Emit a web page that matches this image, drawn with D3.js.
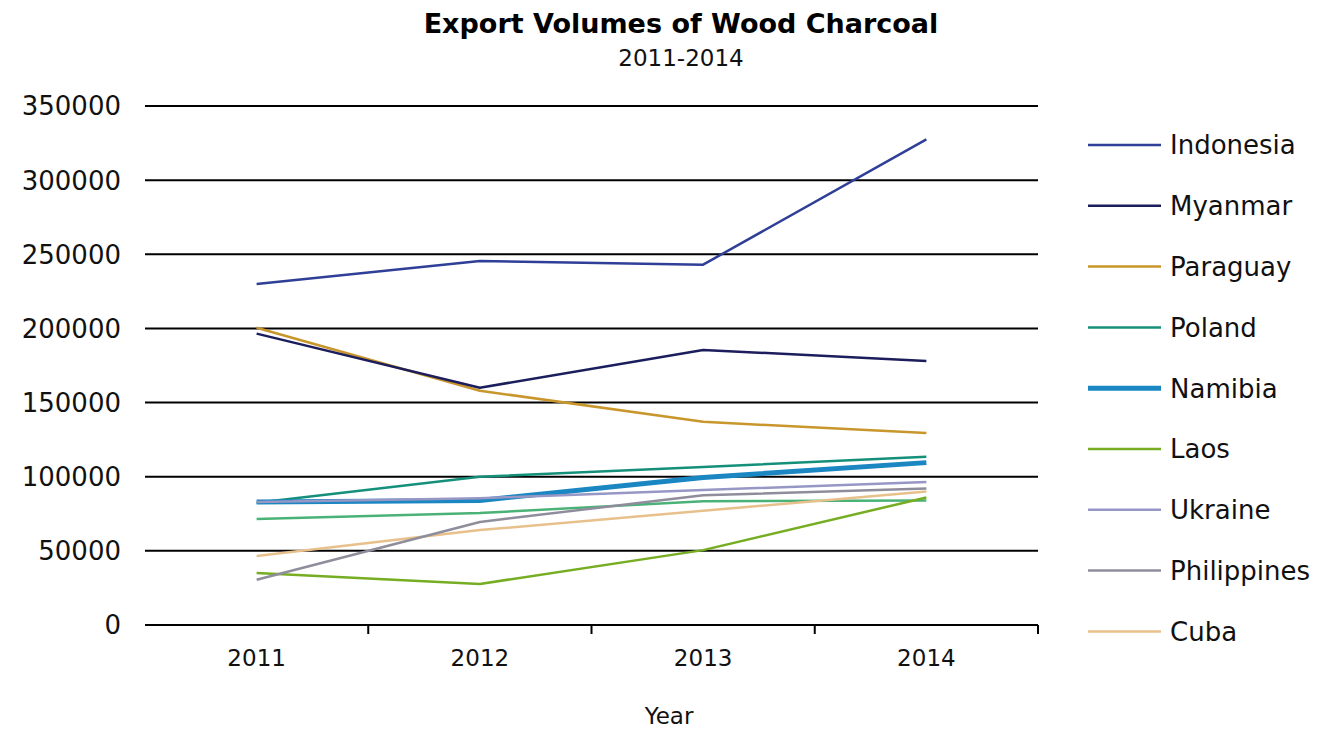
<!DOCTYPE html>
<html>
<head>
<meta charset="utf-8">
<script src="https://cdn.jsdelivr.net/npm/d3@7"></script>
<style>
  html, body { margin: 0; padding: 0; background: #fff; }
  svg { display: block; font-family: "DejaVu Sans", "Noto Sans", sans-serif; }
</style>
</head>
<body>
<svg id="chart" width="1317" height="729"></svg>
<script>
const years = ["2011", "2012", "2013", "2014"];
const yTicks = [0, 50000, 100000, 150000, 200000, 250000, 300000, 350000];

const indonesia   = [230000, 245500, 243000, 327500];
const myanmar     = [196500, 160000, 185500, 178000];
const paraguay    = [200500, 158000, 137000, 129500];
const poland      = [82500, 100000, 106500, 113500];
const namibia     = [83000, 84000, 99500, 109500];
const laos        = [35000, 27700, 50500, 86000];
const ukraine     = [83000, 85500, 91000, 96500];
const philippines = [30500, 69500, 87500, 92000];
const cuba        = [46500, 64000, 77000, 90000];
const unlabeled   = [71500, 75500, 83500, 84000];

const series = [
  { name: "Indonesia",   values: indonesia,   color: "#2f3f97", width: 2.5, legend: true },
  { name: "Myanmar",     values: myanmar,     color: "#1b1d5c", width: 2.5, legend: true },
  { name: "Paraguay",    values: paraguay,    color: "#c9962c", width: 2.5, legend: true },
  { name: "Poland",      values: poland,      color: "#14907a", width: 2.5, legend: true },
  { name: "Namibia",     values: namibia,     color: "#1a86c2", width: 5,   legend: true },
  { name: "Laos",        values: laos,        color: "#76ad22", width: 2.5, legend: true },
  { name: "Ukraine",     values: ukraine,     color: "#9797c6", width: 2.5, legend: true },
  { name: "Philippines", values: philippines, color: "#8f8d9c", width: 2.5, legend: true },
  { name: "Cuba",        values: cuba,        color: "#e8c08c", width: 2.5, legend: true },
  { name: "Other",       values: unlabeled,   color: "#4bb277", width: 2.5, legend: false }
];

(function () {
const svg = d3.select("#chart");
const pLeft = 145, pRight = 1038, pTop = 106, pBottom = 625;

const x = d3.scaleBand().domain(years).range([pLeft, pRight]).paddingInner(0).paddingOuter(0);
const y = d3.scaleLinear().domain([0, 350000]).range([pBottom, pTop]);

// gridlines
svg.append("g").selectAll("line").data(yTicks).join("line")
  .attr("x1", pLeft).attr("x2", pRight)
  .attr("y1", d => y(d)).attr("y2", d => y(d))
  .attr("stroke", "#000").attr("stroke-width", 2);

// y axis labels
svg.append("g").selectAll("text").data(yTicks).join("text")
  .attr("x", 121).attr("y", d => y(d)).attr("dy", "0.36em")
  .attr("text-anchor", "end").attr("font-size", 26).attr("fill", "#111")
  .text(d => d);

// x axis
const xAxis = d3.axisBottom(x).tickSize(0).tickSizeOuter(0);
const gx = svg.append("g").attr("transform", `translate(0,${pBottom})`).call(xAxis);
gx.select(".domain").remove();
gx.selectAll("text").attr("font-size", 23).attr("fill", "#111").attr("dy", 0).attr("y", 41)
  .attr("font-family", "\"DejaVu Sans\", sans-serif");
// tick separators between bands
svg.append("g").selectAll("line").data(years).join("line")
  .attr("x1", d => x(d) + x.bandwidth()).attr("x2", d => x(d) + x.bandwidth())
  .attr("y1", pBottom).attr("y2", pBottom + 9)
  .attr("stroke", "#000").attr("stroke-width", 2);

const line = d3.line()
  .x((d, i) => x(years[i]) + x.bandwidth() / 2)
  .y(d => y(d));

const drawOrder = ["Other", "Cuba", "Laos", "Philippines", "Poland", "Namibia", "Ukraine", "Paraguay", "Myanmar", "Indonesia"];
svg.append("g").selectAll("path")
  .data(drawOrder.map(n => series.find(s => s.name === n)))
  .join("path")
  .attr("d", d => line(d.values))
  .attr("fill", "none")
  .attr("stroke", d => d.color)
  .attr("stroke-width", d => d.width)
  .attr("stroke-linejoin", "round");

// titles
svg.append("text").attr("x", 681).attr("y", 33).attr("text-anchor", "middle")
  .attr("font-size", 27).attr("font-weight", "bold").attr("fill", "#000")
  .text("Export Volumes of Wood Charcoal");
svg.append("text").attr("x", 681).attr("y", 66).attr("text-anchor", "middle")
  .attr("font-size", 23).attr("fill", "#111").text("2011-2014");
svg.append("text").attr("x", 669).attr("y", 724).attr("text-anchor", "middle")
  .attr("font-size", 23).attr("fill", "#111").text("Year");

// legend
const legendItems = series.filter(s => s.legend);
const lg = svg.append("g").selectAll("g").data(legendItems).join("g")
  .attr("transform", (d, i) => `translate(1088,${145 + i * 60.8})`);
lg.append("line").attr("x1", 0).attr("x2", 73).attr("y1", 0).attr("y2", 0)
  .attr("stroke", d => d.color).attr("stroke-width", d => d.width);
lg.append("text").attr("x", 82).attr("y", 0).attr("dy", "0.36em")
  .attr("font-size", 26).attr("fill", "#111").text(d => d.name);
})();
</script>
</body>
</html>
